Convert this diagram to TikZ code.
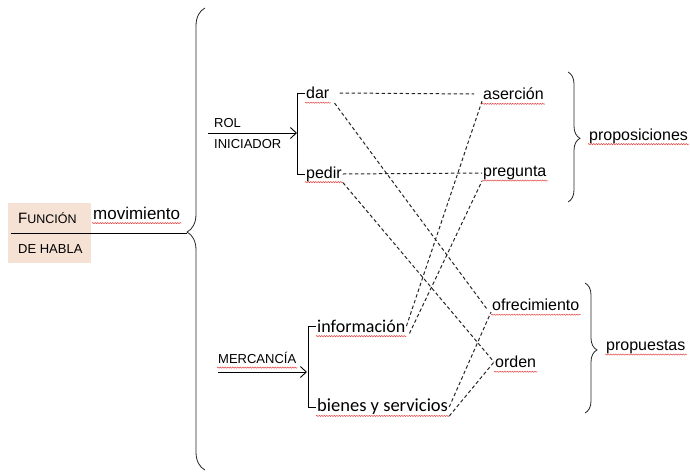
\documentclass[tikz,border=0pt]{standalone}
\usepackage{xcolor}
\usepackage{fontspec}
\setmainfont{Liberation Sans}
\newfontfamily\calibri{Carlito}
\usetikzlibrary{decorations.pathreplacing,decorations.pathmorphing,arrows.meta}
\definecolor{boxfill}{RGB}{246,226,212}
\definecolor{spellred}{RGB}{228,70,70}
\newcommand{\squiggle}[1]{
  \draw[spell] ([yshift=-4pt]#1.base west) -- ([yshift=-4pt]#1.base east);
}
\tikzstyle{word}=[anchor=west, inner sep=1pt, font=\fontsize{16}{18}\selectfont]
\tikzstyle{caps}=[anchor=west, inner sep=1pt, font=\fontsize{13}{15}\selectfont]
\tikzstyle{goods}=[anchor=west, inner sep=1pt, font=\calibri\fontsize{18.5}{20}\selectfont]
\tikzset{spell/.style={spellred, line width=.5pt, decorate, decoration={snake, amplitude=.6pt, segment length=2.5pt}}}
\tikzset{link/.style={line width=1pt, black!85, dash pattern=on 3.5pt off 2.5pt}}
\tikzset{feed/.style={line width=.9pt, -{Straight Barb[length=6pt,width=11pt]}}}
\tikzset{curly/.style={line width=.8pt, black!85, decorate}}
\tikzset{y=-1pt}
\tikzset{x=1pt}

\begin{document}
\begin{tikzpicture}
  \useasboundingbox (0,0) rectangle (690,474);

  %% function box
  \draw (8,203) node[anchor=north west, fill=boxfill, minimum width=83pt, minimum height=60pt, inner sep=0pt] (funcbox) {};
  \draw (17,218) node[caps] (func) {{\fontsize{15}{16}\selectfont F}{\fontsize{12.5}{14}\selectfont UNCIÓN}};
  \draw (17,249) node[caps] (habla) {DE HABLA};
  \draw (92,213) node[word, font=\fontsize{17}{19}\selectfont] (mov) {movimiento};
  \coordinate (tip) at (187,233);
  \draw[line width=.9pt] ([xshift=3pt]funcbox.west |- tip) -- (tip);
  \draw[curly, decoration={brace, amplitude=18pt, aspect=.515}] (205,470) -- (205,8);

  %% rol iniciador
  \draw (213,123) node[caps] (rol) {ROL};
  \draw (213,144) node[caps] (inic) {INICIADOR};
  \coordinate (rolstart) at (208,133);
  \coordinate (rolend) at (297,133);
  \draw[feed] (rolstart) -- (rolend);
  \draw (305,93) node[word] (dar) {dar};
  \draw (305,174) node[word] (pedir) {pedir};
  \draw[line width=.9pt] (dar.west) -- ++(-8,0) |- (pedir.west);

  %% mercancia
  \draw (217,358) node[caps] (merc) {MERCANCÍA};
  \coordinate (mercstart) at (218,372);
  \coordinate (mercend) at (307,372);
  \draw[feed] (mercstart) -- (mercend);
  \draw (316,326) node[goods, font=\calibri\fontsize{18}{20}\selectfont] (info) {información};
  \draw (316,407) node[goods] (bienes) {bienes y servicios};
  \draw[line width=.9pt] (info.west) -- ++(-8,0) |- (bienes.west);

  %% speech functions
  \draw (482,94) node[word] (aser) {aserción};
  \draw (482,173) node[word] (preg) {pregunta};
  \draw (491,305) node[word] (ofr) {ofrecimiento};
  \draw (494,362) node[word] (orden) {orden};
  \draw[curly, decoration={brace, amplitude=12pt, aspect=.51}] (568,72) -- (568,202);
  \draw[curly, decoration={brace, amplitude=12pt, aspect=.515}] (585,283) -- (585,413);
  \draw (588,136) node[word] (propos) {proposiciones};
  \draw (605,347) node[word] (propue) {propuestas};

  %% links
  \draw[link] ([xshift=9pt]dar.east) -- ([xshift=-8pt]aser.west);
  \draw[link] ([xshift=4pt,yshift=-3pt]dar.south east) -- ([xshift=-4pt,yshift=3pt]ofr.south west);
  \draw[link] (pedir.east) -- (preg.west);
  \draw[link] (pedir.south east) -- (orden.west);
  \draw[link] (info.east) -- (aser.south west);
  \draw[link] ([xshift=3pt]info.south east) -- (preg.south west);
  \draw[link] (bienes.east) -- (ofr.south west);
  \draw[link] (bienes.south east) -- (orden.west);

  %% spelling marks
  \squiggle{mov}
  \squiggle{dar}
  \squiggle{pedir}
  \squiggle{merc}
  \squiggle{info}
  \squiggle{bienes}
  \squiggle{aser}
  \squiggle{preg}
  \squiggle{ofr}
  \squiggle{orden}
  \squiggle{propos}
  \squiggle{propue}
\end{tikzpicture}
\end{document}
